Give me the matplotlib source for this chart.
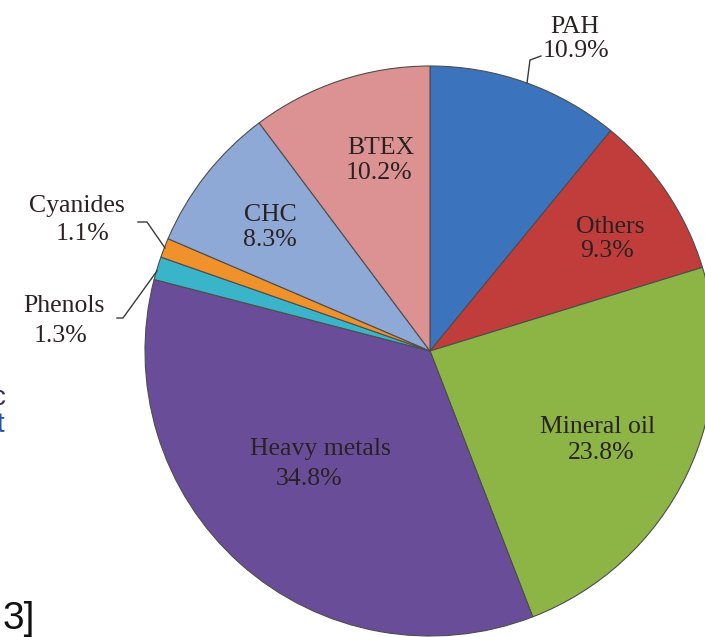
import matplotlib.pyplot as plt

# slices, clockwise from 12 o'clock
LABELS = ["PAH", "Others", "Mineral oil", "Heavy metals",
          "Phenols", "Cyanides", "CHC", "BTEX"]
SHARES = [10.9, 9.3, 23.8, 34.8, 1.3, 1.1, 8.3, 10.2]
COLORS = ["#3b73bd", "#c13d3b", "#8db546", "#6a4d99",
          "#3ab4c9", "#f0922c", "#8fa9d6", "#dc9292"]

W, H = 705, 637
CX, CY, R = 430, 351, 285  # pie centre / radius in pixels

# label layout in pixels: (x name, baseline name, x pct, baseline pct)
LABEL_PX = {
    "PAH": (575, 33, 576, 57),
    "Others": (610, 233, 607, 257),
    "Mineral oil": (598, 433, 601, 459),
    "Heavy metals": (320, 455, 309, 485),
    "Phenols": (64, 312, 61, 342),
    "Cyanides": (77, 212, 83, 240),
    "CHC": (270, 221, 270, 246),
    "BTEX": (381, 154, 379, 179),
}
LEADERS = {
    "PAH": [(527, 83), (530, 60), (541, 56)],
    "Cyanides": [(138, 222), (147, 222), (165, 248)],
    "Phenols": [(117, 318), (123, 318), (157, 271)],
}

INK = "#2a2222"
SERIF = ["Liberation Serif", "DejaVu Serif"]


def to_data(x, y):
    return (x - CX) / R, (CY - y) / R


fig = plt.figure(figsize=(W / 100, H / 100), dpi=100)
fig.patch.set_facecolor("white")
ax = fig.add_axes([0, 0, 1, 1])

ax.pie(SHARES, colors=COLORS, startangle=90, counterclock=False,
       radius=1.0, center=(0, 0),
       wedgeprops={"edgecolor": "#4d4d4d", "linewidth": 0.8})

for lab, pct in zip(LABELS, SHARES):
    xn, yn, xp, yp = LABEL_PX[lab]
    ax.text(*to_data(xn, yn), lab, ha="center", va="baseline",
            fontsize=18.5, family=SERIF, color=INK)
    ax.text(*to_data(xp, yp), f"{pct:.1f}%", ha="center", va="baseline",
            fontsize=18.5, family=SERIF, color=INK)

for lab, pts in LEADERS.items():
    xs, ys = zip(*[to_data(x, y) for x, y in pts])
    ax.plot(xs, ys, color="#3a3a3a", lw=1.0, solid_joinstyle="round")

# clipped fragments of surrounding page text
ax.text(*to_data(3, 629), "3]", ha="left", va="baseline", fontsize=28,
        family=["Liberation Sans", "DejaVu Sans"], color="#111111")
ax.text(*to_data(6, 405), "c", ha="right", va="baseline", fontsize=20,
        family=["Liberation Sans", "DejaVu Sans"], color="#3a2d55")
ax.text(*to_data(4, 432), "t", ha="right", va="baseline", fontsize=20,
        family=["Liberation Sans", "DejaVu Sans"], color="#2452a8")

x0, _ = to_data(0, 0)
x1, _ = to_data(W, 0)
_, y1 = to_data(0, 0)
_, y0 = to_data(0, H)
ax.set_xlim(x0, x1)
ax.set_ylim(y0, y1)
ax.set_aspect("equal", adjustable="box")
ax.axis("off")

fig.savefig("out.png", dpi=100, facecolor="white")
